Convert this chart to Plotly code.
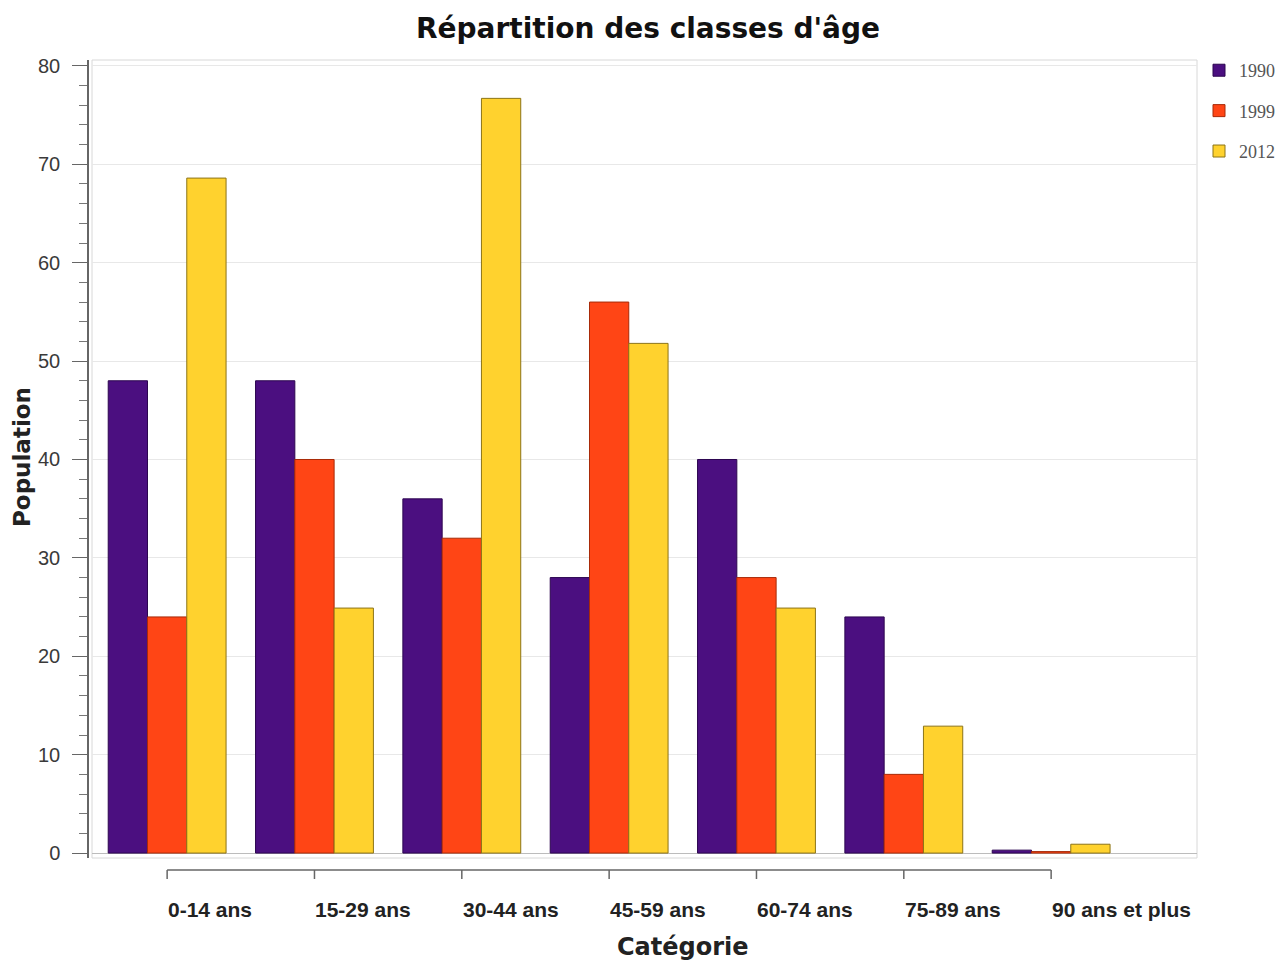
import plotly.graph_objects as go

categories = ["0-14 ans", "15-29 ans", "30-44 ans", "45-59 ans", "60-74 ans", "75-89 ans", "90 ans et plus"]
years = ["1990", "1999", "2012"]
pop_1990 = [48, 48, 36, 28, 40, 24, 0.3]
pop_1999 = [24, 40, 32, 56, 28, 8, 0.15]
pop_2012 = [68.6, 24.9, 76.7, 51.8, 24.9, 12.9, 0.9]

COLORS = {"1990": "#4b0f80", "1999": "#ff4515", "2012": "#ffd22e"}
EDGES = {"1990": "#2c0650", "1999": "#a82a08", "2012": "#8c7418"}

# page has an 8px body margin, so the figure is a bit smaller than the window
W, H = 1280, 956
ML, MR, MT, MB = 80, 91, 52, 106
pw = W - ML - MR
ph = H - MT - MB
xrange_ = [-0.51, 6.99]

idx = list(range(len(categories)))

fig = go.Figure()
for yr, vals in zip(years, [pop_1990, pop_1999, pop_2012]):
    fig.add_trace(go.Bar(x=idx, y=vals, name=yr, legendgroup=yr,
                         marker=dict(color=COLORS[yr], line=dict(color=EDGES[yr], width=1))))

# short category axis below the plot (line + ticks), labels left-aligned on the ticks
axis_y = -12 / ph
fig.add_shape(type="line", xref="x", yref="paper", x0=idx[0], x1=idx[-1], y0=axis_y, y1=axis_y,
              line=dict(color="#666", width=1.5))
for i, c in enumerate(categories):
    fig.add_shape(type="line", xref="x", yref="paper", x0=i, x1=i, y0=axis_y, y1=axis_y - 9 / ph,
                  line=dict(color="#666", width=1.5))
    fig.add_annotation(x=i, xref="x", y=-52 / ph, yref="paper", text="<b>" + c + "</b>", showarrow=False,
                       xanchor="left", yanchor="middle", xshift=-1,
                       font=dict(family="Liberation Sans", size=21, color="#222"))

fig.add_annotation(x=(675 - ML) / pw, xref="paper", y=-89 / ph, yref="paper", text="<b>Catégorie</b>",
                   showarrow=False, xanchor="center", yanchor="middle",
                   font=dict(family="DejaVu Sans", size=24, color="#222"))
fig.add_annotation(x=(14 - ML) / pw, xref="paper", y=0.5025, yref="paper", text="<b>Population</b>",
                   textangle=-90, showarrow=False, xanchor="center", yanchor="middle",
                   font=dict(family="DejaVu Sans", size=23, color="#222"))

fig.add_shape(type="rect", xref="x domain", yref="y domain", x0=0, x1=1, y0=0, y1=1,
              line=dict(color="#d8d8d8", width=1), layer="below")

fig.update_layout(
    width=W, height=H,
    margin=dict(l=ML, r=MR, t=MT, b=MB, autoexpand=False),
    plot_bgcolor="white", paper_bgcolor="white",
    title=dict(text="<b>Répartition des classes d'âge</b>", x=0.5, xref="container", xanchor="center",
               y=1 - 20 / H, yanchor="middle", font=dict(family="DejaVu Sans", size=28, color="#111")),
    bargap=0.2, bargroupgap=0,
    xaxis=dict(range=xrange_, domain=[4 / pw, 1], showticklabels=False, ticks="",
               showline=False, showgrid=False, zeroline=False, automargin=False),
    yaxis=dict(range=[-0.5, 80.6], anchor="free", position=0, automargin=False,
               dtick=10, ticks="outside", ticklen=15, tickcolor="#666",
               showline=True, linecolor="#666", linewidth=1.5,
               showgrid=True, gridcolor="#e8e8e8", gridwidth=1,
               zeroline=True, zerolinecolor="#bcbcbc", zerolinewidth=1,
               minor=dict(dtick=2, ticks="outside", ticklen=8, tickcolor="#777", showgrid=False),
               ticklabelstandoff=8,
               tickfont=dict(family="Liberation Sans", size=20, color="#3a3a3a")),
    legend=dict(x=(1191 - ML) / pw, y=1.01, xanchor="left", yanchor="top",
                tracegroupgap=14, itemwidth=30,
                font=dict(family="Liberation Serif", size=18, color="#555"),
                bgcolor="rgba(0,0,0,0)"),
    showlegend=True,
)

fig.write_html("out.html")
